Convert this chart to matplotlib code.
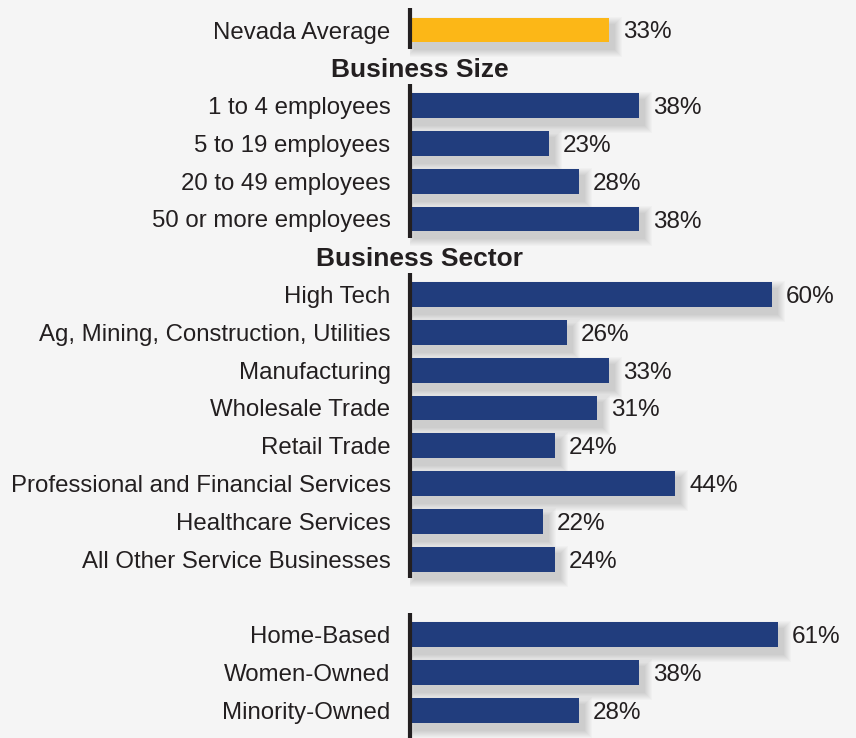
import matplotlib.pyplot as plt
from matplotlib.patches import Rectangle

plt.rcParams['font.family'] = ['Liberation Sans', 'DejaVu Sans']

avg_label = "Nevada Average"
avg_value = 33

size_title = "Business Size"
size_labels = ["1 to 4 employees", "5 to 19 employees", "20 to 49 employees",
               "50 or more employees"]
size_values = [38, 23, 28, 38]

sector_title = "Business Sector"
sector_labels = ["High Tech", "Ag, Mining, Construction, Utilities", "Manufacturing",
                 "Wholesale Trade", "Retail Trade", "Professional and Financial Services",
                 "Healthcare Services", "All Other Service Businesses"]
sector_values = [60, 26, 33, 31, 24, 44, 22, 24]

other_labels = ["Home-Based", "Women-Owned", "Minority-Owned"]
other_values = [61, 38, 28]

bg = "#f5f5f5"
navy = "#213d7d"
gold = "#fcb717"
ink = "#231f20"

W, H = 856, 738
ax_left = 410           # pixel x of the zero line
px_per_pct = 6.03
row0, row_step = 30, 37.8
bar_h = 0.66

fig = plt.figure(figsize=(W / 100, H / 100), dpi=100, facecolor=bg)
ax = fig.add_axes([ax_left / W, 0, 1 - ax_left / W, 1])
ax.set_facecolor(bg)
ax.set_xlim(0, (W - ax_left) / px_per_pct)
ax.set_ylim((H - row0) / row_step, -row0 / row_step)
for s in ax.spines.values():
    s.set_visible(False)
ax.set_xticks([])

# row layout: average, header, sizes, header, sectors, blank, others
rows, labels, values, colors = [], [], [], []
groups = []
r = 0
rows.append(r); labels.append(avg_label); values.append(avg_value); colors.append(gold)
groups.append((r, r))
r += 1
size_head = r
r += 1
start = r
for lab, v in zip(size_labels, size_values):
    rows.append(r); labels.append(lab); values.append(v); colors.append(navy); r += 1
groups.append((start, r - 1))
sector_head = r
r += 1
start = r
for lab, v in zip(sector_labels, sector_values):
    rows.append(r); labels.append(lab); values.append(v); colors.append(navy); r += 1
groups.append((start, r - 1))
r += 1
start = r
for lab, v in zip(other_labels, other_values):
    rows.append(r); labels.append(lab); values.append(v); colors.append(navy); r += 1
groups.append((start, r - 1))

# soft drop shadow under each bar, built from stacked faint rectangles
sx, sy = 5 / px_per_pct, 7 / row_step
n_blur = 8
for y, v in zip(rows, values):
    for k in range(n_blur):
        g = n_blur - k
        gx = g * 1.0 / px_per_pct
        gy = g * 1.0 / row_step
        ax.add_patch(Rectangle((sx - gx, y - bar_h / 2 + sy - gy), v + 2 * gx, bar_h + 2 * gy,
                               facecolor="#000000", alpha=0.02, linewidth=0, zorder=1))

ax.barh(rows, values, height=bar_h, color=colors, zorder=2)

for y, v in zip(rows, values):
    ax.annotate(f"{v}%", (v, y), xytext=(10, 0), textcoords="offset points",
                ha="left", va="center_baseline", fontsize=17.5, color=ink)

ax.set_yticks(rows)
ax.set_yticklabels(labels, fontsize=17.3, color=ink, va="center_baseline")
ax.tick_params(axis="y", length=0, pad=14)

hx = 10 / px_per_pct
ax.text(hx, size_head, size_title, ha="center", va="center_baseline", fontsize=19,
        fontweight="bold", color=ink, clip_on=False)
ax.text(hx, sector_head, sector_title, ha="center", va="center_baseline", fontsize=19,
        fontweight="bold", color=ink, clip_on=False)

# zero line drawn in separate pieces per group
for i, (a, b) in enumerate(groups):
    top = a - 0.58
    bottom = b + (0.8 if i == len(groups) - 1 else 0.5)
    ax.plot([0, 0], [top, bottom], color=ink, linewidth=3, solid_capstyle="butt",
            zorder=3, clip_on=False)

fig.savefig("out.png", dpi=100, facecolor=bg)
